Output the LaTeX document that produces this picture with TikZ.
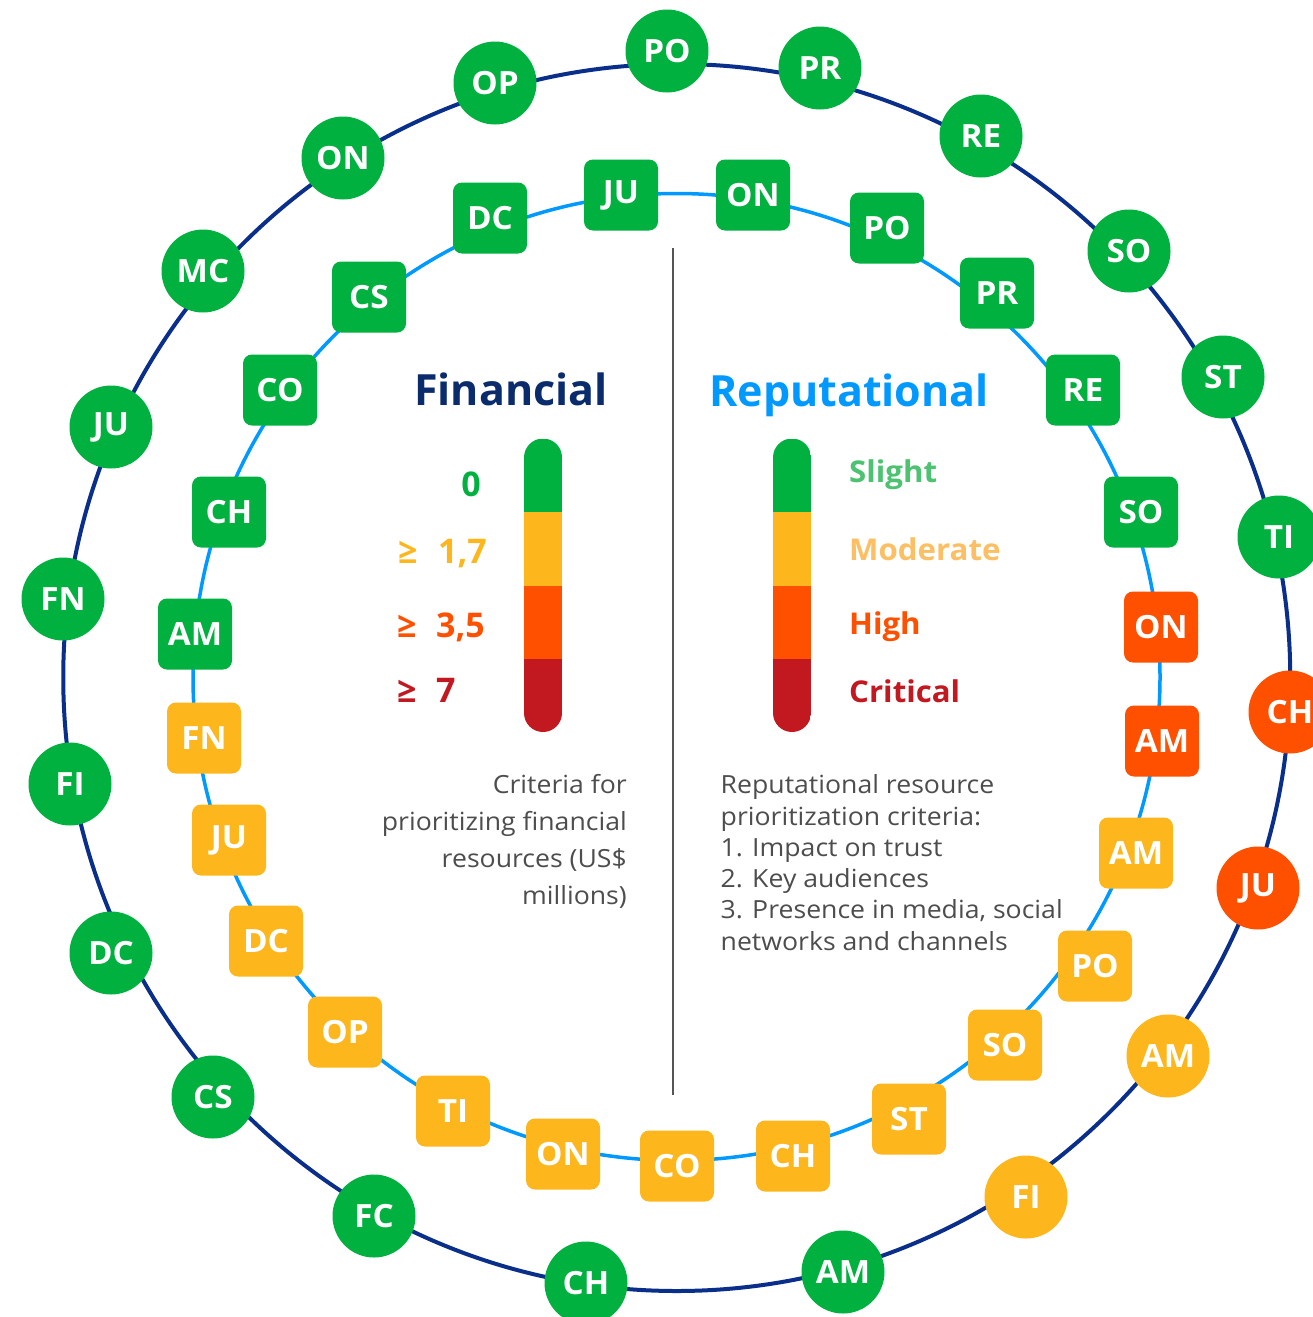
\documentclass[tikz,border=0pt]{standalone}
\usepackage{fontspec}
\setmainfont{Open Sans}
\newfontfamily\widesans[FakeStretch=1.065]{Open Sans}
\newfontfamily\gradesans[FakeStretch=1.04]{Open Sans}
\definecolor{cgreen}{HTML}{00B140}
\definecolor{cyellow}{HTML}{FDB71D}
\definecolor{corange}{HTML}{FF5000}
\definecolor{cred}{HTML}{C1191F}
\definecolor{navy}{HTML}{0A2F8A}
\definecolor{navytext}{HTML}{0A2B6C}
\definecolor{skyblue}{HTML}{0099FF}
\definecolor{lightgreen}{HTML}{4DC270}
\definecolor{lightorange}{HTML}{FDBF63}
\definecolor{bodygray}{HTML}{4D4D4D}
\definecolor{rulegray}{HTML}{555555}
\begin{document}
\begin{tikzpicture}[x=1pt,y=-1pt,
  badge/.style={text=white, font=\gradesans\fontsize{32}{32}\selectfont\bfseries, inner sep=0pt},
  outernode/.style={badge, circle, minimum size=83pt},
  innernode/.style={badge, rectangle, rounded corners=9pt, minimum width=74pt, minimum height=71pt},
  heading/.style={font=\fontsize{43}{43}\selectfont\bfseries, inner sep=0pt, anchor=base west},
  level/.style={font=\fontsize{34}{34}\selectfont\bfseries, inner sep=0pt},
  grade/.style={font=\gradesans\fontsize{30}{30}\selectfont\bfseries, inner sep=0pt, anchor=base west},
  caption/.style={font=\widesans\fontsize{25}{25}\selectfont, text=bodygray, inner sep=0pt}
]
\useasboundingbox[fill=white] (0,0) rectangle (1312,1317);

% rings
\draw[navy, line width=4pt] (676.75,677.5) circle[radius=613.5pt];
\draw[skyblue, line width=3.5pt] (676.5,677) circle[radius=483.5pt];

% divider between the two legends
\draw[rulegray, line width=2pt] (673,248) -- (673,1095);

% outer ring badges
\foreach \n/\x/\y/\c/\t in {
  o1/667/51/cgreen/PO, o2/820/68/cgreen/PR, o3/981/136/cgreen/RE,
  o4/1129/251/cgreen/SO, o5/1223/377/cgreen/ST, o6/1279/537/cgreen/TI,
  o7/1290/712/corange/CH, o8/1258/888/corange/JU, o9/1168/1056/cyellow/AM,
  o10/1026/1197/cyellow/FI, o11/843/1272/cgreen/AM, o12/586/1283/cgreen/CH,
  o13/374/1216/cgreen/FC, o14/213/1097/cgreen/CS, o15/111/953/cgreen/DC,
  o16/70/784/cgreen/FI, o17/63/599/cgreen/FN, o18/111/427/cgreen/JU,
  o19/203/271/cgreen/MC, o20/343/158/cgreen/ON, o21/495/83/cgreen/OP}
  \node[outernode, fill=\c] (\n) at (\x,\y) {\t};

% inner ring badges
\foreach \n/\x/\y/\c/\t in {
  i1/621/195/cgreen/JU, i2/753/195/cgreen/ON, i3/887/228/cgreen/PO,
  i4/997/293/cgreen/PR, i5/1083/390/cgreen/RE, i6/1141/512/cgreen/SO,
  i7/1161/627/corange/ON, i8/1162/741/corange/AM, i9/1136/853/cyellow/AM,
  i10/1095/966/cyellow/PO, i11/1005/1045/cyellow/SO, i12/909/1119/cyellow/ST,
  i13/793/1156/cyellow/CH, i14/677/1166/cyellow/CO, i15/563/1154/cyellow/ON,
  i16/453/1111/cyellow/TI, i17/345/1032/cyellow/OP, i18/266/941/cyellow/DC,
  i19/229/840/cyellow/JU, i20/204/738/cyellow/FN, i21/195/634/cgreen/AM,
  i22/229/512/cgreen/CH, i23/280/390/cgreen/CO, i24/369/297/cgreen/CS,
  i25/490/218/cgreen/DC}
  \node[innernode, fill=\c] (\n) at (\x,\y) {\t};

% financial legend
\node[heading, text=navytext] (fhead) at (414,405) {Financial};
\begin{scope}
  \clip[rounded corners=19pt] (524,438.5) rectangle (562,732);
  \fill[cgreen] (524,438.5) rectangle (562,512);
  \fill[cyellow] (524,512) rectangle (562,586);
  \fill[corange] (524,586) rectangle (562,659);
  \fill[cred] (524,659) rectangle (562,732);
\end{scope}
\node[level, text=cgreen, anchor=base east] (f0) at (481,496) {0};
\node[level, text=cyellow, anchor=base west] (f1g) at (398,563) {≥};
\node[level, text=cyellow, anchor=base west] (f1) at (438,563) {1,7};
\node[level, text=corange, anchor=base west] (f2g) at (397,637) {≥};
\node[level, text=corange, anchor=base west] (f2) at (436,637) {3,5};
\node[level, text=cred, anchor=base west] (f3g) at (397,702) {≥};
\node[level, text=cred, anchor=base west] (f3) at (436,702) {7};
\foreach \n/\y/\t in {fc1/793.8/Criteria for, fc2/830.8/prioritizing financial,
  fc3/867.4/resources (US\$, fc4/904.5/millions)}
  \node[caption, anchor=base east] (\n) at (627,\y) {\t};

% reputational legend
\node[heading, text=skyblue] (rhead) at (709,406) {Reputational};
\begin{scope}
  \clip[rounded corners=19pt] (773,438.5) rectangle (811,732);
  \fill[cgreen] (773,438.5) rectangle (811,512);
  \fill[cyellow] (773,512) rectangle (811,586);
  \fill[corange] (773,586) rectangle (811,659);
  \fill[cred] (773,659) rectangle (811,732);
\end{scope}
\node[grade, text=lightgreen] (r0) at (849,482) {Slight};
\node[grade, text=lightorange] (r1) at (849,560) {Moderate};
\node[grade, text=corange] (r2) at (849,634) {High};
\node[grade, text=cred] (r3) at (849,702) {Critical};
\foreach \n/\y/\t in {rc1/793.8/Reputational resource, rc2/825/prioritization criteria:,
  rc3/856.3/1. Impact on trust, rc4/887.6/2. Key audiences,
  rc5/918.9/{3. Presence in media, social}, rc6/950.2/networks and channels}
  \node[caption, anchor=base west] (\n) at (720.5,\y) {\t};
\end{tikzpicture}
\end{document}
